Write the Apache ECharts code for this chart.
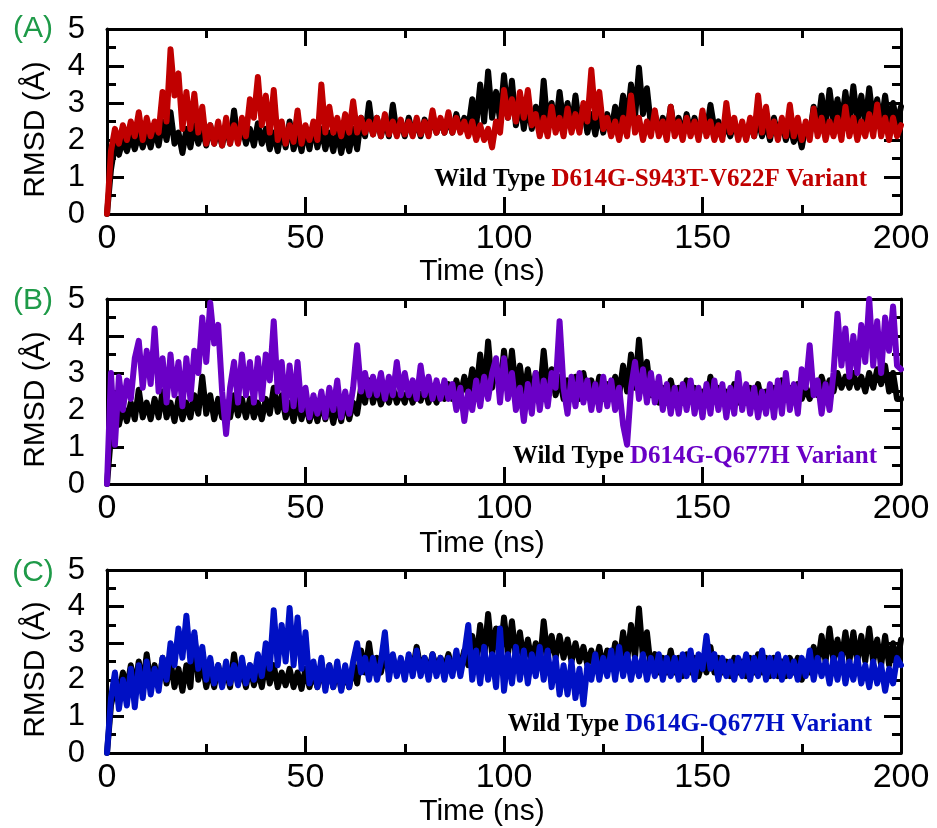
<!DOCTYPE html>
<html><head><meta charset="utf-8">
<script src="https://cdn.jsdelivr.net/npm/echarts@6/dist/echarts.min.js"></script>
<style>html,body{margin:0;padding:0;background:#fff}#chart{width:937px;height:828px}</style>
</head><body><div id="chart"></div>
<script>
// Sampling step of the RMSD traces (ns per sample)
const timeStepNs = 1;

// Panel A: Wild Type vs D614G-S943T-V622F
const wtA = [0,1.2,1.9,1.6,2.0,1.7,2.1,1.75,2.15,1.8, 2.2,1.8,2.3,1.85,2.5,2.0,2.75,1.9,2.2,1.65, 2.3,1.8,2.4,1.9,2.3,1.85,2.4,1.9,2.3,1.85, 2.4,1.9,2.8,1.95,2.4,1.9,2.3,1.85,2.45,1.9, 2.3,1.75,2.2,1.7,2.3,1.8,2.5,1.75,2.2,1.7, 2.3,1.75,2.4,1.8,2.3,1.75,2.2,1.7,2.25,1.65, 2.2,1.7,2.3,1.75,2.6,2.1,3.0,2.15,2.6,2.1, 2.55,2.1,2.95,2.15,2.5,2.1,2.6,2.15,2.5,2.1, 2.55,2.2,2.6,2.2,2.55,2.2,2.6,2.2,2.7,2.25, 2.6,2.3,3.1,2.4,3.5,2.5,3.85,2.6,3.3,2.55, 3.75,2.6,3.6,2.4,3.1,2.3,3.0,2.3,2.9,2.2, 3.6,2.3,3.0,2.3,3.3,2.4,3.0,2.3,3.2,2.35, 2.9,2.2,2.7,2.15,2.8,2.2,2.7,2.2,2.9,2.4, 3.2,2.5,3.5,2.6,3.95,2.7,3.4,2.4,2.7,2.2, 2.6,2.15,2.9,2.2,2.6,2.1,2.7,2.2,2.6,2.1, 2.5,2.2,2.95,2.3,2.5,2.1,2.4,2.1,2.5,2.1, 2.4,2.05,2.5,2.1,2.6,2.1,2.5,2.0,2.6,2.1, 2.5,2.0,2.4,1.95,2.3,1.8,2.4,2.1,2.9,2.3, 3.2,2.4,3.35,2.5,3.1,2.4,3.3,2.5,3.45,2.5, 3.2,2.45,3.4,2.5,3.1,2.4,3.2,2.4,3.0,2.4, 2.9];
const varA = [0,1.7,2.3,1.9,2.4,2.0,2.5,2.1,2.75,2.0, 2.6,2.1,2.5,2.2,3.3,2.5,4.45,3.2,3.8,2.3, 3.3,2.3,3.25,2.2,2.9,1.9,2.4,1.9,2.5,1.85, 2.6,1.9,2.4,1.9,2.6,2.1,3.1,2.6,3.7,2.4, 3.2,2.2,3.35,2.0,2.5,1.9,2.4,1.95,2.8,1.9, 2.4,2.0,2.5,2.0,3.5,2.2,2.9,2.2,2.6,2.1, 2.7,2.2,3.05,2.2,2.6,2.2,2.5,2.15,2.6,2.1, 2.7,2.15,2.5,2.1,2.55,2.15,2.5,2.1,2.6,2.15, 2.5,2.1,2.8,2.2,2.6,2.2,2.75,2.2,2.6,2.2, 2.5,2.1,2.5,2.0,2.4,2.0,2.3,1.8,2.5,2.2, 3.35,2.6,3.1,2.5,3.3,2.6,3.35,2.4,2.7,2.1, 2.6,2.1,2.9,2.2,2.6,2.1,2.85,2.2,2.7,2.2, 3.0,2.5,3.9,2.6,3.3,2.3,2.6,2.1,2.5,2.0, 2.6,2.1,3.2,2.2,2.6,2.0,2.5,2.1,2.8,2.1, 2.5,2.0,2.9,2.1,2.5,2.0,2.6,2.1,2.5,2.0, 2.8,2.1,2.5,2.0,2.4,2.0,3.0,2.2,2.6,2.0, 2.5,2.0,2.6,2.1,3.2,2.2,2.9,2.1,2.5,2.0, 2.6,2.1,2.95,2.1,2.6,2.0,2.5,2.0,2.85,2.1, 2.6,2.0,2.5,2.1,2.6,2.0,2.9,2.1,2.6,2.0, 2.5,2.1,2.7,2.1,2.96,2.1,2.6,2.0,2.6,2.1, 2.4];

// Panel B: Wild Type vs D614G-Q677H
const wtB = [0,1.3,1.9,1.6,2.1,1.7,2.2,1.75,2.55,1.8, 2.2,1.75,2.3,1.8,2.5,1.8,2.2,1.7,2.3,1.75, 2.2,1.8,2.4,1.9,2.9,1.9,2.4,1.75,2.3,1.8, 2.2,1.8,2.4,1.85,2.3,1.8,2.3,1.8,2.2,1.75, 2.3,1.9,2.6,1.95,2.4,1.8,2.2,1.7,2.3,1.75, 2.2,1.7,2.1,1.7,2.25,1.75,2.2,1.65,2.2,1.7, 2.3,1.75,2.2,1.9,2.6,2.2,2.8,2.2,2.6,2.15, 2.5,2.2,2.6,2.2,2.5,2.2,2.6,2.2,2.55,2.25, 2.6,2.2,2.5,2.2,2.6,2.3,2.7,2.3,2.8,2.35, 2.9,2.4,3.1,2.5,3.5,2.5,3.85,2.6,3.3,2.5, 3.6,2.6,3.6,2.5,3.2,2.4,3.1,2.4,3.0,2.4, 3.6,2.5,3.1,2.4,2.9,2.3,2.8,2.3,2.9,2.3, 3.0,2.4,2.8,2.3,2.9,2.3,2.7,2.3,2.9,2.4, 3.2,2.5,3.5,2.6,3.9,2.6,3.3,2.4,2.7,2.2, 2.6,2.2,2.8,2.3,2.6,2.2,2.8,2.3,2.6,2.2, 2.5,2.2,2.9,2.3,2.6,2.2,2.5,2.2,2.7,2.2, 2.5,2.2,2.6,2.3,2.7,2.2,2.5,2.2,2.6,2.3, 2.8,2.3,2.6,2.3,2.7,2.3,2.6,2.3,2.7,2.4, 2.9,2.5,2.8,2.5,3.0,2.6,2.9,2.6,3.0,2.6, 2.9,2.5,3.0,2.6,3.1,2.7,3.2,2.5,3.0,2.3, 2.3];
const varB = [0,3.0,1.06,2.9,2.0,2.8,2.3,3.4,3.87,2.6, 3.6,2.7,4.2,2.5,3.4,2.2,3.5,2.4,3.3,2.1, 3.4,2.3,3.6,3.0,4.5,3.3,4.9,3.8,4.3,2.5, 1.35,2.6,3.3,2.2,3.5,2.4,3.3,2.2,3.4,2.3, 3.5,2.8,4.4,2.5,3.3,2.0,3.2,2.1,3.3,2.0, 2.6,1.8,2.4,1.9,2.5,1.8,2.6,2.0,2.8,1.8, 2.5,1.9,2.6,3.75,2.5,3.0,2.4,2.9,2.4,3.0, 2.3,2.9,2.4,3.3,2.4,3.0,2.4,2.8,2.3,3.2, 2.4,2.9,2.3,2.8,2.3,2.8,2.3,2.7,2.0,2.6, 1.7,2.5,2.0,2.8,2.1,2.9,2.3,3.0,3.4,2.2, 3.4,2.3,3.0,2.0,2.6,1.7,2.7,1.9,3.0,2.0, 2.8,2.1,3.0,2.6,4.4,2.6,1.9,2.9,2.1,3.0, 2.2,2.8,2.0,2.7,2.0,2.9,2.1,2.8,2.0,2.6, 1.6,1.06,2.6,3.3,2.3,3.1,2.2,3.0,2.2,2.9, 2.0,2.7,1.9,2.6,1.9,2.7,2.0,2.8,1.9,2.6, 1.8,2.7,1.9,2.8,2.0,2.7,1.8,2.6,1.9,3.0, 2.0,2.7,1.9,2.6,1.8,2.5,1.9,2.7,1.8,2.8, 1.9,3.0,2.0,2.7,1.9,3.1,2.6,3.75,2.4,2.8, 1.9,2.7,2.0,3.0,4.6,3.2,4.2,2.9,4.0,3.0, 4.3,3.3,5.0,3.2,4.4,3.0,4.5,3.6,4.8,3.2, 3.1];

// Panel C: Wild Type vs D614G-Q677H
const wtC = [0,1.3,1.8,1.6,2.2,1.75,2.4,1.8,2.5,1.8, 2.7,1.85,2.4,1.8,2.6,1.9,2.5,1.8,2.3,1.7, 2.4,1.8,3.2,2.0,2.5,1.8,2.3,1.8,2.4,1.85, 2.3,1.8,2.7,1.9,2.3,1.8,2.4,1.85,2.3,1.8, 2.5,1.9,2.4,1.8,2.2,1.85,2.3,1.8,2.2,1.75, 2.3,1.8,2.2,1.8,2.3,1.8,2.4,1.8,2.3,1.75, 2.2,1.8,2.4,1.9,2.8,2.2,3.0,2.2,2.6,2.2, 2.7,2.2,2.6,2.2,2.5,2.2,2.6,2.25,2.9,2.3, 2.6,2.2,2.7,2.3,2.6,2.3,2.7,2.3,2.6,2.35, 2.8,2.4,3.2,2.5,3.5,2.6,3.8,2.7,3.4,2.6, 3.7,2.7,3.6,2.6,3.3,2.5,3.1,2.5,3.0,2.4, 3.6,2.6,3.2,2.6,3.2,2.6,3.1,2.5,3.0,2.5, 2.9,2.4,2.8,2.4,2.9,2.3,2.8,2.3,3.0,2.4, 3.3,2.5,3.5,2.6,3.95,2.6,3.3,2.3,2.7,2.2, 2.6,2.2,2.8,2.2,2.6,2.1,2.7,2.2,2.6,2.1, 2.5,2.2,2.9,2.2,2.6,2.2,2.5,2.1,2.6,2.2, 2.5,2.1,2.6,2.2,2.7,2.2,2.6,2.1,2.6,2.1, 2.5,2.1,2.6,2.2,2.6,2.0,2.5,2.2,2.9,2.4, 3.2,2.5,3.4,2.5,3.1,2.5,3.3,2.5,3.3,2.5, 3.2,2.5,3.4,2.5,3.1,2.4,3.2,2.4,3.0,2.4, 3.1];
const varC = [0,1.5,2.2,1.2,2.0,1.3,2.3,1.25,2.4,1.5, 2.5,1.6,2.3,1.7,2.6,2.0,3.0,2.4,3.4,2.6, 3.75,2.5,3.3,2.3,2.9,2.0,2.6,1.9,2.4,1.8, 2.5,1.9,2.4,1.85,2.6,1.9,2.4,2.0,2.7,2.1, 3.0,2.3,3.9,2.4,3.5,2.5,3.96,2.4,3.7,2.3, 3.3,1.9,2.5,1.8,2.6,1.7,2.4,1.8,2.5,1.7, 2.4,1.8,2.5,3.0,2.2,2.6,2.0,2.6,2.0,2.5, 3.3,2.0,2.7,2.1,2.6,2.0,2.7,2.1,2.8,2.1, 2.6,2.0,2.7,2.1,2.6,2.0,2.6,2.1,2.8,2.1, 2.7,3.5,2.0,2.8,1.9,2.9,2.0,2.7,1.8,3.4, 1.7,2.7,1.9,2.9,2.0,2.8,1.9,2.7,2.1,2.9, 2.0,2.8,1.8,2.6,1.6,2.4,1.6,2.5,1.5,2.3, 1.33,2.4,2.0,2.7,2.0,2.6,2.1,2.8,2.0,2.9, 2.1,2.7,2.0,2.6,2.1,2.7,2.0,2.6,2.1,2.7, 2.0,2.6,2.1,2.6,2.0,2.7,2.1,2.8,2.0,2.7, 2.3,3.2,2.3,2.7,2.0,2.6,2.1,2.5,2.0,2.6, 2.1,2.7,2.0,2.6,2.1,2.8,2.0,2.6,2.1,2.7, 2.0,2.6,2.1,2.5,2.0,2.6,2.1,2.8,2.0,2.6, 2.1,2.5,1.9,2.6,2.0,2.7,1.9,2.5,2.0,2.6, 1.9,2.4,1.8,2.5,1.9,2.4,1.7,2.3,1.9,2.6, 2.4];

const panelLabels = ['(A)', '(B)', '(C)'];
const wildTypeName = 'Wild Type';
const variantNames = ['D614G-S943T-V622F Variant', 'D614G-Q677H Variant', 'D614G-Q677H Variant'];
const xAxisTitle = 'Time (ns)';
const yAxisTitle = 'RMSD (Å)';

const wtSeries = [wtA, wtB, wtC];
const varSeries = [varA, varB, varC];
const variantColors = ['#c00000', '#6a00c6', '#0010c4'];

const SANS = '"Liberation Sans", Arial, sans-serif';
const SERIF = '"Liberation Serif", "Times New Roman", serif';
const tops = [29, 299, 570];
const plotH = 185;
const legendRight = [867, 877, 872];
const legendY = [180, 457, 725];
const labelY = [29, 301, 573];

const chart = echarts.init(document.getElementById('chart'), null, {renderer: 'canvas'});
const grids = [], xAxes = [], yAxes = [], series = [], graphics = [];
const lineBlack = {color: '#000', width: 3};

for (let i = 0; i < 3; i++) {
  grids.push({left: 107, right: 36, top: tops[i], height: plotH, containLabel: false});
  const xBase = {
    type: 'value', gridIndex: i, min: 0, max: 200, interval: 50,
    axisLine: {onZero: false, lineStyle: lineBlack},
    axisTick: {inside: true, length: 17, lineStyle: lineBlack},
    minorTick: {show: true, splitNumber: 2, length: 9, lineStyle: lineBlack},
    splitLine: {show: false}, minorSplitLine: {show: false}
  };
  xAxes.push(Object.assign({}, xBase, {
    position: 'bottom',
    axisLabel: {fontFamily: SANS, fontSize: 34, color: '#000', margin: 8},
    name: xAxisTitle, nameLocation: 'middle', nameGap: [40, 45, 44][i],
    nameTextStyle: {fontFamily: SANS, fontSize: 30, color: '#000', padding: [0, 44, 0, 0]}
  }));
  xAxes.push(Object.assign({}, xBase, {position: 'top', axisLabel: {show: false}}));
  const yBase = {
    type: 'value', gridIndex: i, min: 0, max: 5, interval: 1,
    axisLine: {onZero: false, lineStyle: lineBlack},
    axisTick: {inside: true, length: 17, lineStyle: lineBlack},
    minorTick: {show: true, splitNumber: 2, length: 9, lineStyle: lineBlack},
    splitLine: {show: false}, minorSplitLine: {show: false}
  };
  yAxes.push(Object.assign({}, yBase, {
    position: 'left',
    axisLabel: {fontFamily: SANS, fontSize: 31, color: '#000', margin: 22},
    name: yAxisTitle, nameLocation: 'middle', nameGap: 56, nameRotate: 90,
    nameTextStyle: {fontFamily: SANS, fontSize: 30, color: '#000', padding: [0, 16, 0, 0]}
  }));
  yAxes.push(Object.assign({}, yBase, {position: 'right', axisLabel: {show: false}}));

  series.push({
    name: wildTypeName, type: 'line', xAxisIndex: 2 * i, yAxisIndex: 2 * i,
    data: wtSeries[i].map((v, k) => [k * timeStepNs, v]),
    showSymbol: false, symbol: 'none', z: 2,
    lineStyle: {color: '#000', width: 6, join: 'round', cap: 'round'}
  });
  series.push({
    name: variantNames[i], type: 'line', xAxisIndex: 2 * i, yAxisIndex: 2 * i,
    data: varSeries[i].map((v, k) => [k * timeStepNs, v]),
    showSymbol: false, symbol: 'none', z: 3,
    lineStyle: {color: variantColors[i], width: 6, join: 'round', cap: 'round'}
  });

  graphics.push({
    type: 'text', x: 33, y: labelY[i], z: 10,
    style: {text: panelLabels[i], fill: '#1e9a48', font: '30px ' + SANS, align: 'center', verticalAlign: 'middle'}
  });
  graphics.push({
    type: 'text', x: legendRight[i], y: legendY[i], z: 10,
    style: {
      text: '{w|' + wildTypeName + '} {v|' + variantNames[i] + '}',
      align: 'right', verticalAlign: 'middle',
      font: 'bold 25px ' + SERIF,
      rich: {
        w: {fill: '#000', fontSize: 25, fontWeight: 'bold', fontFamily: SERIF},
        v: {fill: variantColors[i], fontSize: 25, fontWeight: 'bold', fontFamily: SERIF}
      }
    }
  });
}

chart.setOption({
  animation: false,
  backgroundColor: '#fff',
  grid: grids, xAxis: xAxes, yAxis: yAxes, series: series, graphic: graphics
});
</script>
</body></html>
